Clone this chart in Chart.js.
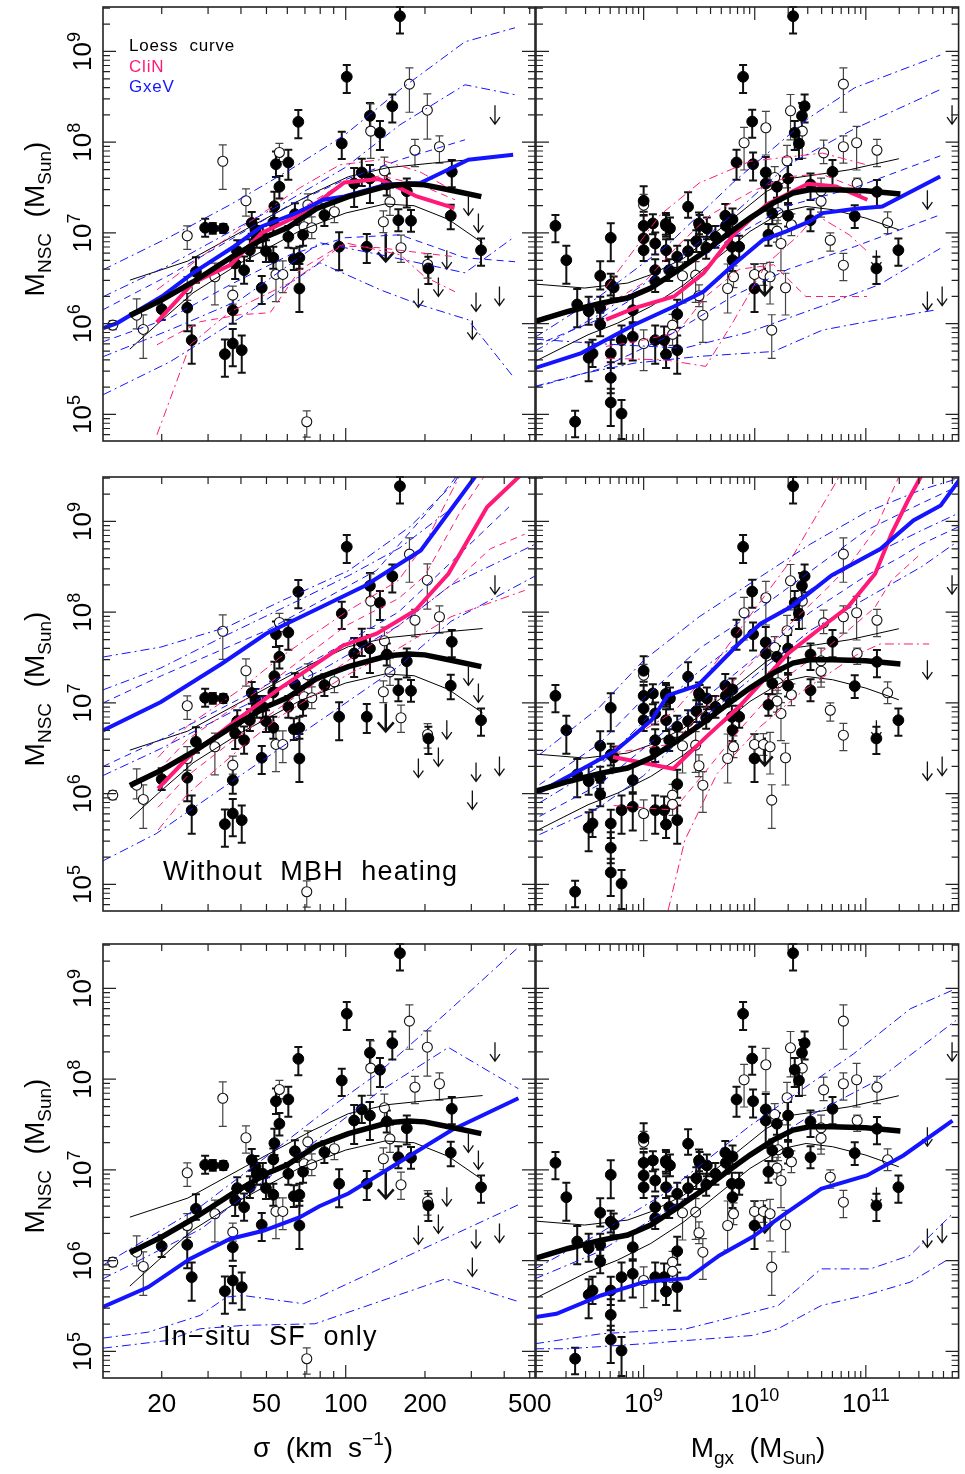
<!DOCTYPE html>
<html>
<head>
<meta charset="utf-8">
<script src="https://cdn.jsdelivr.net/npm/chart.js@4.4.1/dist/chart.umd.min.js"></script>
<style>
  html, body { margin: 0; padding: 0; background: #fff; overflow: hidden; }
  #wrap { position: relative; width: 965px; height: 1474px; }
  #wrap canvas { position: absolute; left: 0; top: 0; }
</style>
</head>
<body>
<div id="wrap"></div>
<script>
// --- DATA (log10 values) ---
const sigmaTicks = [20, 50, 100, 200, 500];
const mgxExps = [9, 10, 11];
const mnscExps = [5, 6, 7, 8, 9];
const legendNames = ['Loess  curve', 'CliN', 'GxeV'];
const rowLabels = ['', 'Without  MBH  heating', 'In\u2212situ  SF  only'];

// [filled?, log sigma, log M_NSC, err down, err up]
const sigmaPoints = [
  [1,1.820,8.225,0.18,0.13],[0,1.533,7.79,0.31,0.18],[0,1.748,7.887,0.10,0.10],[1,1.735,7.758,0.14,0.14],
  [1,1.782,7.777,0.19,0.14],[1,1.748,7.509,0.13,0.12],[0,1.621,7.355,0.17,0.13],[1,1.729,7.295,0.13,0.16],
  [0,1.856,7.31,0.12,0.12],[1,1.807,7.207,0.12,0.12],[1,1.643,7.11,0.12,0.12],[1,1.725,7.116,0.12,0.12],
  [1,2.206,9.389,0.19,0.10],[1,2.004,8.721,0.18,0.13],[0,2.242,8.64,0.31,0.18],[1,2.177,8.397,0.18,0.13],
  [0,2.310,8.353,0.32,0.18],[1,2.092,8.291,0.14,0.14],[0,2.095,8.122,0.30,0.30],[1,2.130,8.104,0.19,0.13],
  [1,1.985,7.986,0.17,0.13],[0,2.263,7.912,0.18,0.12],[0,2.356,7.95,0.18,0.12],[1,2.403,7.674,0.17,0.13],
  [1,2.061,7.667,0.15,0.15],[0,2.147,7.685,0.15,0.15],[1,2.032,7.545,0.26,0.17],[1,2.092,7.60,0.27,0.15],
  [1,2.156,7.534,0.12,0.12],[1,2.232,7.46,0.18,0.14],[0,2.168,7.343,0.15,0.15],[0,1.957,7.234,0.12,0.12],
  [1,1.919,7.196,0.12,0.12],[1,2.399,7.19,0.15,0.12],[0,2.143,7.123,0.12,0.12],[1,2.200,7.14,0.12,0.12],
  [1,2.248,7.134,0.12,0.12],[0,1.115,5.984,0.05,0.05],[0,1.206,6.094,0.15,0.18],[0,1.231,5.937,0.32,0.16],
  [1,1.301,6.16,0.12,0.12],[1,1.398,6.176,0.26,0.17],[1,1.415,5.819,0.26,0.16],[0,1.398,6.388,0.13,0.13],
  [0,1.398,6.969,0.15,0.11],[1,1.466,7.057,0.10,0.10],[1,1.495,7.05,0.06,0.06],[1,1.535,7.05,0.05,0.05],
  [1,1.431,6.572,0.12,0.16],[0,1.503,6.517,0.31,0.15],[1,1.571,6.149,0.15,0.16],[0,1.571,6.315,0.10,0.10],
  [1,1.541,5.665,0.25,0.16],[1,1.571,5.782,0.25,0.16],[1,1.605,5.709,0.25,0.16],[1,1.580,6.664,0.17,0.13],
  [1,1.614,6.59,0.15,0.15],[1,1.588,6.80,0.12,0.12],[1,1.636,6.81,0.12,0.12],[1,1.681,6.396,0.18,0.13],
  [0,1.735,6.543,0.30,0.15],[0,1.761,6.543,0.20,0.15],[1,1.824,6.388,0.26,0.27],[1,1.725,6.727,0.12,0.12],
  [1,1.697,6.80,0.12,0.12],[1,1.662,6.958,0.12,0.12],[1,1.685,6.958,0.12,0.12],[1,1.782,6.958,0.12,0.12],
  [1,1.803,6.711,0.12,0.12],[1,1.824,6.727,0.12,0.12],[0,1.842,7.068,0.12,0.12],[0,1.871,7.057,0.12,0.12],
  [0,1.852,4.92,0.17,0.12],[1,1.975,6.848,0.26,0.16],[1,2.080,6.848,0.18,0.14],[0,2.210,6.837,0.16,0.14],
  [0,2.311,6.653,0.15,0.12],[1,2.314,6.609,0.17,0.13],[1,2.514,6.81,0.17,0.13],[1,1.657,7.035,0.12,0.12],
  [1,1.838,6.98,0.12,0.12]
];
// upper limits [log sigma, log M_NSC, big arrow?]
const sigmaLimits = [
  [2.567,8.408,0],[2.466,7.402,0],[2.504,7.215,0],[2.384,6.81,0],[2.352,6.51,0],
  [2.276,6.388,0],[2.495,6.344,0],[2.584,6.41,0],[2.481,6.036,0],[2.152,6.995,1]
];

// [filled?, log M_gx, log M_NSC, err down, err up]
const mgxPoints = [
  [1,9.895,8.721,0.18,0.13],[1,9.977,8.228,0.18,0.13],[0,9.904,7.994,0.30,0.17],[1,9.836,7.777,0.19,0.14],
  [1,9.985,7.758,0.18,0.13],[1,9.0,7.355,0.12,0.16],[0,9.0,7.306,0.12,0.12],[1,9.4,7.289,0.12,0.16],
  [1,9.735,7.19,0.12,0.13],[1,9.8,7.149,0.12,0.12],[1,9.498,7.105,0.12,0.12],[1,9.083,7.105,0.12,0.10],
  [1,9.2,7.10,0.12,0.12],[1,10.345,9.389,0.19,0.10],[0,10.798,8.64,0.31,0.18],[0,10.322,8.346,0.32,0.18],
  [1,10.449,8.397,0.18,0.13],[1,10.425,8.291,0.14,0.14],[0,10.428,8.122,0.30,0.30],[1,10.36,8.104,0.19,0.13],
  [1,10.398,7.986,0.17,0.13],[0,10.10,8.159,0.30,0.18],[0,10.62,7.883,0.12,0.14],[0,10.798,7.95,0.18,0.12],
  [0,10.917,7.994,0.30,0.18],[0,11.10,7.912,0.18,0.12],[0,10.291,7.796,0.30,0.17],[1,10.099,7.667,0.15,0.17],
  [1,10.099,7.545,0.30,0.12],[1,10.20,7.509,0.12,0.12],[1,10.30,7.60,0.27,0.15],[0,10.18,7.612,0.12,0.12],
  [1,10.502,7.534,0.17,0.12],[1,10.70,7.674,0.17,0.13],[0,10.922,7.545,0.12,0.06],[0,10.597,7.464,0.29,0.14],
  [0,10.597,7.35,0.12,0.12],[1,11.10,7.453,0.17,0.13],[1,10.90,7.186,0.13,0.12],[0,11.196,7.112,0.12,0.12],
  [1,10.30,7.19,0.12,0.12],[1,10.502,7.14,0.12,0.12],[1,10.158,7.215,0.12,0.12],[0,10.21,7.222,0.12,0.12],
  [1,8.206,7.079,0.18,0.12],[1,8.304,6.70,0.26,0.16],[1,8.704,6.947,0.26,0.16],[1,8.402,6.212,0.25,0.17],
  [1,8.505,6.138,0.15,0.16],[1,8.609,6.528,0.15,0.16],[1,8.704,6.43,0.12,0.12],[1,8.73,6.40,0.12,0.12],
  [1,8.609,6.176,0.12,0.12],[1,8.609,5.992,0.13,0.13],[1,8.505,5.625,0.26,0.17],[1,8.54,5.672,0.15,0.15],
  [1,8.704,5.672,0.16,0.15],[1,8.704,5.404,0.17,0.17],[1,8.704,5.132,0.26,0.15],[1,8.801,5.01,0.28,0.15],
  [1,8.383,4.92,0.17,0.12],[1,8.801,5.819,0.26,0.16],[1,8.902,6.149,0.15,0.16],[1,8.902,5.856,0.26,0.16],
  [0,9.0,5.782,0.30,0.15],[1,9.104,5.819,0.26,0.16],[1,9.202,5.661,0.15,0.16],[0,9.26,5.984,0.12,0.12],
  [0,9.26,5.882,0.12,0.12],[1,9.302,6.105,0.15,0.16],[1,9.302,5.709,0.26,0.16],[1,9.184,5.819,0.15,0.15],
  [1,9.0,6.94,0.12,0.12],[1,9.0,6.81,0.12,0.12],[1,9.0,7.079,0.12,0.12],[1,9.104,6.884,0.12,0.12],
  [1,9.104,6.59,0.12,0.12],[1,9.104,6.469,0.12,0.12],[1,9.202,6.81,0.12,0.12],[1,9.202,7.079,0.12,0.12],
  [1,9.237,7.05,0.12,0.12],[1,9.23,6.59,0.12,0.12],[1,9.302,6.738,0.12,0.12],[0,9.35,6.528,0.30,0.15],
  [1,9.4,6.80,0.12,0.12],[0,9.468,6.535,0.30,0.15],[1,9.504,7.079,0.12,0.12],[1,9.569,7.05,0.12,0.12],
  [1,9.646,6.958,0.12,0.12],[1,9.474,6.91,0.12,0.12],[1,9.563,6.837,0.12,0.12],[0,9.498,6.308,0.12,0.12],
  [0,9.533,6.094,0.30,0.15],[1,9.74,7.079,0.12,0.12],[1,9.794,6.848,0.12,0.12],[1,9.86,6.848,0.12,0.12],
  [1,9.80,6.70,0.12,0.12],[0,9.756,6.388,0.27,0.27],[0,9.809,6.517,0.12,0.12],[1,9.998,6.388,0.26,0.27],
  [0,9.998,6.543,0.12,0.12],[0,10.078,6.543,0.12,0.12],[0,10.138,6.517,0.30,0.16],[0,10.277,6.396,0.30,0.16],
  [0,10.153,5.929,0.31,0.17],[0,10.68,6.92,0.12,0.08],[0,10.798,6.645,0.17,0.13],[1,11.095,6.609,0.17,0.13],
  [1,11.293,6.81,0.17,0.13],[1,10.123,6.98,0.12,0.12],[0,10.236,6.884,0.30,0.12],[0,10.20,7.02,0.12,0.12],
  [0,10.33,7.09,0.12,0.12]
];
const mgxLimits = [[11.776,8.408,0],[11.554,7.472,0],[11.554,6.355,0],[11.687,6.41,0],[11.095,6.81,0],[10.09,6.62,1]];

// Loess curves [log x, log M_NSC]
const loessMidS = [[1.18,6.09],[1.30,6.26],[1.42,6.46],[1.57,6.74],[1.70,6.96],[1.78,7.06],[1.89,7.27],[2.01,7.40],[2.16,7.52],[2.24,7.54],[2.30,7.53],[2.40,7.47],[2.515,7.40]];
const loessHiS = [[1.18,6.48],[1.40,6.69],[1.62,7.04],[1.87,7.43],[2.01,7.62],[2.16,7.72],[2.33,7.77],[2.52,7.82]];
const loessLoS = [[1.18,5.72],[1.29,6.01],[1.42,6.34],[1.60,6.67],[1.83,7.03],[2.0,7.22],[2.15,7.32],[2.26,7.30],[2.39,7.15],[2.52,6.89]];
const loessMidM = [[8.022,6.025],[8.32,6.135],[8.618,6.227],[8.856,6.283],[9.064,6.393],[9.273,6.558],[9.51,6.76],[9.749,6.98],[9.957,7.164],[10.165,7.329],[10.344,7.44],[10.493,7.476],[10.701,7.476],[10.999,7.465],[11.311,7.429]];
const loessHiM = [[8.022,6.437],[8.469,6.393],[8.856,6.448],[9.064,6.54],[9.362,6.723],[9.808,7.164],[10.106,7.458],[10.344,7.605],[10.553,7.641],[10.85,7.696],[11.297,7.818]];
const loessLoM = [[8.022,5.584],[8.499,5.878],[8.766,6.007],[9.064,6.19],[9.362,6.429],[9.66,6.723],[9.957,7.017],[10.255,7.237],[10.463,7.292],[10.701,7.256],[10.999,7.164],[11.297,7.035]];

// Row 1 (fiducial) models
const gx1S_med = [[1.079,5.952],[1.132,6.007],[1.301,6.30],[1.419,6.558],[1.576,6.851],[1.681,7.072],[1.812,7.22],[1.916,7.366],[1.995,7.402],[2.152,7.531],[2.283,7.55],[2.388,7.696],[2.466,7.807],[2.636,7.862]];
const gx1S_dd1 = [[1.078,6.594],[1.333,6.958],[1.561,7.311],[1.788,7.696],[1.997,8.082],[2.206,8.578],[2.453,9.107],[2.643,9.261]];
const gx1S_dd2 = [[1.078,6.297],[1.333,6.65],[1.561,7.013],[1.788,7.366],[1.997,7.719],[2.206,8.192],[2.453,8.633],[2.643,8.523]];
const gx1S_ds1 = [[1.078,6.154],[1.333,6.54],[1.561,6.925],[1.788,7.311],[1.997,7.586],[2.206,7.807],[2.453,8.027]];
const gx1S_ds2 = [[1.078,5.801],[1.333,6.066],[1.561,6.429],[1.788,6.76],[1.997,6.947],[2.206,6.98],[2.453,6.727],[2.643,6.683]];
const gx1S_dd3 = [[1.078,5.636],[1.333,5.933],[1.599,6.264],[1.902,6.892],[2.131,6.76],[2.453,6.561],[2.636,6.947]];
const gx1S_dd4 = [[1.078,5.217],[1.333,5.581],[1.599,6.066],[1.902,6.672],[2.131,6.374],[2.282,6.209],[2.465,6.044],[2.636,5.416]];
const cl1S_med = [[1.282,6.014],[1.419,6.448],[1.563,6.65],[1.681,7.0],[1.812,7.182],[1.89,7.33],[1.995,7.556],[2.126,7.594],[2.191,7.513],[2.27,7.402],[2.413,7.274]];
const cl1S_dd1 = [[1.283,6.374],[1.447,6.727],[1.636,7.123],[1.826,7.498],[1.978,7.751],[2.13,7.807],[2.282,7.674],[2.415,7.454]];
const cl1S_ds1 = [[1.283,6.209],[1.447,6.484],[1.636,6.87],[1.826,7.256],[1.978,7.531],[2.13,7.63],[2.282,7.531],[2.415,7.366]];
const cl1S_ds2 = [[1.283,5.768],[1.447,6.022],[1.599,6.099],[1.713,6.121],[1.826,6.595],[1.978,6.859],[2.13,6.837],[2.282,6.782],[2.415,6.738]];
const cl1S_dd2 = [[1.283,4.776],[1.409,5.768],[1.561,6.132],[1.788,6.451],[1.902,6.683],[1.997,6.892],[2.206,6.76],[2.3,6.518],[2.415,6.352]];

const gx1M_med = [[8.022,5.511],[8.439,5.677],[8.916,5.988],[9.273,6.19],[9.54,6.355],[9.808,6.65],[10.076,6.925],[10.284,7.017],[10.493,7.127],[10.612,7.219],[10.909,7.267],[11.148,7.292],[11.669,7.623]];
const gx1M_dd1 = [[8.022,5.85],[8.6,6.3],[9.2,6.85],[9.8,7.55],[10.49,8.27],[10.9,8.6],[11.67,8.96]];
const gx1M_dd2 = [[8.022,5.7],[8.6,6.1],[9.2,6.6],[9.8,7.2],[10.3,7.75],[10.9,8.15],[11.67,8.58]];
const gx1M_ds1 = [[8.022,5.76],[8.6,6.05],[9.2,6.5],[9.8,6.95],[10.3,7.3],[10.9,7.5],[11.67,7.85]];
const gx1M_ds2 = [[8.022,5.3],[8.6,5.5],[9.2,5.85],[9.8,6.3],[10.3,6.6],[10.9,6.85],[11.67,7.2]];
const gx1M_dd3 = [[8.022,5.83],[8.6,5.78],[9.36,5.73],[9.93,5.9],[10.64,6.21],[11.12,6.43],[11.67,6.83]];
const gx1M_dd4 = [[8.022,5.31],[8.45,5.45],[8.92,5.566],[9.5,5.64],[10.17,5.694],[10.61,5.93],[11.0,6.02],[11.62,6.15]];
const cl1M_med = [[8.662,6.044],[8.916,6.172],[9.273,6.3],[9.54,6.558],[9.808,6.98],[10.106,7.311],[10.314,7.44],[10.478,7.542],[10.732,7.512],[11.014,7.366]];
const cl1M_dd1 = [[8.66,6.4],[9.15,7.2],[9.5,7.55],[9.96,7.79],[10.61,7.88],[11.01,7.75]];
const cl1M_ds1 = [[8.66,6.2],[9.0,6.45],[9.3,6.85],[9.6,7.2],[9.96,7.45],[10.3,7.62],[10.6,7.65],[11.01,7.45]];
const cl1M_ds2 = [[8.66,5.75],[8.92,5.8],[9.3,5.9],[9.56,6.3],[9.86,6.6],[10.17,6.65],[10.46,6.3],[11.01,6.3]];
const cl1M_dd2 = [[8.66,5.62],[9.2,5.6],[9.56,5.53],[9.81,6.03],[10.1,6.65],[10.4,6.98],[10.55,7.2],[10.85,6.98],[11.01,6.8]];

// Row 2 (without MBH heating)
const gx2S_med = [[1.078,6.697],[1.298,7.01],[1.529,7.432],[1.697,7.763],[1.907,8.057],[2.075,8.295],[2.285,8.68],[2.495,9.507],[2.55,9.75]];
const gx2S_dd1 = [[1.078,7.506],[1.298,7.616],[1.549,7.836],[1.76,8.13],[2.012,8.46],[2.243,8.94],[2.411,9.42],[2.45,9.6]];
const gx2S_dd2 = [[1.078,7.144],[1.298,7.386],[1.549,7.75],[1.826,8.137],[2.016,8.41],[2.206,8.71],[2.396,9.13],[2.51,9.55]];
const gx2S_ds1 = [[1.078,7.0],[1.3,7.3],[1.7,7.8],[2.117,8.46],[2.327,9.16],[2.45,9.6]];
const gx2S_ds2 = [[1.078,6.3],[1.3,6.6],[1.6,7.05],[1.9,7.5],[2.2,8.0],[2.4,8.55],[2.62,9.16]];
const gx2S_dd3 = [[1.078,6.2],[1.3,6.5],[1.6,6.95],[1.9,7.35],[2.2,7.85],[2.4,8.3],[2.72,8.75]];
const gx2S_dd4 = [[1.078,5.26],[1.28,5.56],[1.6,6.2],[1.9,6.8],[2.2,7.4],[2.4,7.9],[2.72,8.4]];
const cl2S_med = [[1.287,6.055],[1.402,6.404],[1.592,6.826],[1.739,7.138],[1.991,7.634],[2.117,7.763],[2.264,8.019],[2.39,8.424],[2.537,9.159],[2.663,9.507]];
const cl2S_ds1 = [[1.287,6.25],[1.4,6.6],[1.6,7.0],[1.75,7.3],[2.0,7.85],[2.2,8.15],[2.3,8.4],[2.43,9.08],[2.55,9.6]];
const cl2S_dd1 = [[1.287,6.4],[1.4,6.75],[1.6,7.15],[1.75,7.5],[2.0,8.0],[2.2,8.35],[2.3,8.75],[2.45,9.6]];
const cl2S_ds2 = [[1.287,5.85],[1.4,6.2],[1.6,6.65],[1.75,6.95],[2.0,7.45],[2.2,7.85],[2.4,8.3],[2.55,8.7],[2.68,8.86]];
const cl2S_dd2 = [[1.287,5.6],[1.4,6.0],[1.6,6.5],[1.75,6.85],[2.0,7.3],[2.2,7.6],[2.4,7.95],[2.68,8.24]];

const gx2M_med = [[8.062,6.018],[8.48,6.294],[8.75,6.477],[9.069,6.807],[9.217,7.083],[9.487,7.193],[9.856,7.652],[10.052,7.873],[10.347,8.074],[10.691,8.405],[11.133,8.699],[11.428,9.011],[11.674,9.176],[11.86,9.489]];
const gx2M_dd1 = [[8.062,6.43],[8.6,6.95],[9.0,7.47],[9.5,7.95],[10.0,8.35],[10.5,8.75],[11.0,9.1],[11.5,9.35],[11.85,9.48]];
const gx2M_dd2 = [[8.062,5.9],[8.6,6.3],[9.0,6.8],[9.5,7.35],[10.0,7.8],[10.5,8.25],[11.0,8.6],[11.5,8.9],[11.85,9.1]];
const gx2M_ds1 = [[8.062,6.1],[8.6,6.55],[9.0,7.05],[9.5,7.6],[10.0,8.0],[10.5,8.45],[11.0,8.9],[11.5,9.2],[11.85,9.4]];
const gx2M_ds2 = [[8.062,5.75],[8.6,6.1],[9.0,6.5],[9.5,7.0],[10.0,7.5],[10.5,8.0],[11.0,8.4],[11.3,8.6],[11.5,8.75],[11.85,8.95]];
const gx2M_dd3 = [[8.062,5.55],[8.6,5.85],[9.0,6.2],[9.5,6.8],[10.0,7.3],[10.5,7.8],[11.0,8.15],[11.5,8.5],[11.85,8.8]];
const cl2M_med = [[8.725,6.404],[9.266,6.275],[9.561,6.624],[9.856,6.955],[10.298,7.542],[10.642,7.873],[10.838,8.057],[11.084,8.424],[11.231,8.864],[11.379,9.231],[11.501,9.507]];
const cl2M_dd1 = [[8.73,6.5],[9.27,6.9],[9.56,7.3],[9.86,7.8],[10.3,8.53],[10.74,9.45],[10.8,9.6]];
const cl2M_ds1 = [[8.73,6.45],[9.27,6.55],[9.56,6.95],[9.86,7.3],[10.3,7.85],[10.64,8.25],[10.84,8.5],[11.08,8.9],[11.3,9.5]];
const cl2M_ds2 = [[8.73,5.87],[9.27,5.82],[9.56,6.25],[9.86,6.7],[10.3,7.3],[10.64,7.6],[10.84,7.8],[11.08,8.05],[11.23,8.35],[11.5,8.65]];
const cl2M_dd2 = [[9.22,4.714],[9.37,5.485],[9.66,6.22],[10.05,6.74],[10.44,7.14],[10.93,7.54],[11.13,7.65],[11.57,7.65]];

// Row 3 (in-situ SF only)
const gx3S_med = [[1.078,5.49],[1.25,5.71],[1.408,6.02],[1.56,6.24],[1.687,6.33],[1.826,6.48],[1.9,6.6],[2.01,6.74],[2.2,7.08],[2.403,7.44],[2.656,7.79]];
const gx3S_dd1 = [[1.078,5.95],[1.45,6.6],[1.7,7.15],[1.9,7.6],[2.12,8.06],[2.39,8.75],[2.656,9.455]];
const gx3S_dd2 = [[1.078,5.8],[1.45,6.35],[1.7,6.9],[1.9,7.35],[2.12,7.85],[2.39,8.35],[2.656,7.895]];
const gx3S_dd3 = [[1.078,5.147],[1.25,5.213],[1.447,5.397],[1.548,5.6],[1.61,5.617],[1.839,5.526],[1.883,5.58],[2.656,6.617]];
const gx3S_dd4 = [[1.078,5.036],[1.32,5.12],[1.447,5.25],[1.61,5.287],[1.883,5.305],[2.378,5.8],[2.656,5.55]];
const gx3M_med = [[8.022,5.378],[8.215,5.415],[8.615,5.617],[9.0,5.764],[9.4,5.808],[9.682,6.058],[9.978,6.26],[10.271,6.517],[10.597,6.793],[11.01,6.94],[11.338,7.16],[11.78,7.545]];
const gx3M_dd1 = [[8.022,5.91],[8.6,6.3],[9.2,6.75],[9.6,7.14],[9.95,7.48],[10.5,7.95],[10.89,8.28],[11.4,8.776],[11.81,8.997]];
const gx3M_dd2 = [[8.022,5.8],[8.6,6.1],[9.2,6.55],[9.6,6.85],[9.92,7.14],[10.5,7.6],[11.1,7.986],[11.81,8.647]];
const gx3M_dd3 = [[8.022,5.085],[8.615,5.195],[9.385,5.25],[9.978,5.433],[10.212,5.507],[10.597,5.91],[11.04,5.91],[11.397,6.058],[11.78,6.517]];
const gx3M_dd4 = [[8.022,5.03],[8.32,5.03],[9.0,5.085],[9.978,5.176],[10.21,5.25],[10.6,5.507],[11.0,5.62],[11.4,5.764],[11.75,6.021]];

// --- LAYOUT & STYLE ---
const W = 965, H = 1474;
const colLeft = [103, 536], colRight = [535, 964];
const rowTop = [7, 477, 944], PH = 434;
const xRange = [[1.078, 2.719], [8.031, 11.835]];
const yRange = [4.7076, 9.49];
const BLUE = '#1414ff', PINK = '#ff1a78', INK = '#111';
const DASH = [7, 5], DOT = [9, 4, 2, 4];
const FONT = '"Liberation Sans", Arial, sans-serif';

const panelModels = [
  [[gx1S_med, BLUE, 'med'], [cl1S_med, PINK, 'med'], [gx1S_dd1, BLUE, 'dd'], [gx1S_dd2, BLUE, 'dd'], [gx1S_ds1, BLUE, 'ds'], [gx1S_ds2, BLUE, 'ds'], [gx1S_dd3, BLUE, 'dd'], [gx1S_dd4, BLUE, 'dd'],
   [cl1S_dd1, PINK, 'dd'], [cl1S_ds1, PINK, 'ds'], [cl1S_ds2, PINK, 'ds'], [cl1S_dd2, PINK, 'dd']],
  [[gx1M_med, BLUE, 'med'], [cl1M_med, PINK, 'med'], [gx1M_dd1, BLUE, 'dd'], [gx1M_dd2, BLUE, 'dd'], [gx1M_ds1, BLUE, 'ds'], [gx1M_ds2, BLUE, 'ds'], [gx1M_dd3, BLUE, 'dd'], [gx1M_dd4, BLUE, 'dd'],
   [cl1M_dd1, PINK, 'dd'], [cl1M_ds1, PINK, 'ds'], [cl1M_ds2, PINK, 'ds'], [cl1M_dd2, PINK, 'dd']],
  [[gx2S_med, BLUE, 'med'], [cl2S_med, PINK, 'med'], [gx2S_dd1, BLUE, 'dd'], [gx2S_dd2, BLUE, 'dd'], [gx2S_ds1, BLUE, 'ds'], [gx2S_ds2, BLUE, 'ds'], [gx2S_dd3, BLUE, 'dd'], [gx2S_dd4, BLUE, 'dd'],
   [cl2S_dd1, PINK, 'dd'], [cl2S_ds1, PINK, 'ds'], [cl2S_ds2, PINK, 'ds'], [cl2S_dd2, PINK, 'dd']],
  [[gx2M_med, BLUE, 'med'], [cl2M_med, PINK, 'med'], [gx2M_dd1, BLUE, 'dd'], [gx2M_dd2, BLUE, 'dd'], [gx2M_ds1, BLUE, 'ds'], [gx2M_ds2, BLUE, 'ds'], [gx2M_dd3, BLUE, 'dd'],
   [cl2M_dd1, PINK, 'dd'], [cl2M_ds1, PINK, 'ds'], [cl2M_ds2, PINK, 'ds'], [cl2M_dd2, PINK, 'dd']],
  [[gx3S_med, BLUE, 'med'], [gx3S_dd1, BLUE, 'dd'], [gx3S_dd2, BLUE, 'dd'], [gx3S_dd3, BLUE, 'dd'], [gx3S_dd4, BLUE, 'dd']],
  [[gx3M_med, BLUE, 'med'], [gx3M_dd1, BLUE, 'dd'], [gx3M_dd2, BLUE, 'dd'], [gx3M_dd3, BLUE, 'dd'], [gx3M_dd4, BLUE, 'dd']]
];

const toXY = arr => arr.map(([a, b]) => ({ x: 10 ** a, y: 10 ** b }));

function lineSet(arr, color, kind) {
  return {
    data: toXY(arr), showLine: true, pointRadius: 0, clip: 0, order: 0,
    borderColor: color,
    borderWidth: kind === 'med' ? 4 : kind === 'loess' ? 5.5 : 1,
    borderDash: kind === 'ds' ? DASH : kind === 'dd' ? DOT : []
  };
}

function f(px) { return px + 'px ' + FONT; }

// draws text made of pieces with sub/superscripts
function rich(ctx, parts, x, y, opts = {}) {
  ctx.save();
  ctx.translate(x, y);
  if (opts.rotate) ctx.rotate(-Math.PI / 2);
  if (opts.spacing) ctx.letterSpacing = opts.spacing;
  ctx.textAlign = 'left';
  ctx.textBaseline = 'alphabetic';
  let w = 0;
  for (const p of parts) { ctx.font = f(p.s); w += ctx.measureText(p.t).width; }
  let cx = opts.align === 'left' ? 0 : -w / 2;
  for (const p of parts) {
    ctx.font = f(p.s);
    ctx.fillStyle = opts.color || '#000';
    ctx.fillText(p.t, cx, p.dy || 0);
    cx += ctx.measureText(p.t).width;
  }
  ctx.restore();
}

function makeDecor(row, col, points, limits) {
  return {
    id: 'decor' + row + col,
    beforeDatasetsDraw(chart) {
      const { ctx, scales: { x, y } } = chart;
      ctx.save();
      // error bars
      for (const [k, lx, ly, dn, up] of points) {
        const px = x.getPixelForValue(10 ** lx);
        const y0 = y.getPixelForValue(10 ** (ly - dn));
        const y1 = y.getPixelForValue(10 ** (ly + up));
        ctx.strokeStyle = k ? INK : '#444';
        ctx.lineWidth = k ? 2 : 1.2;
        ctx.beginPath();
        ctx.moveTo(px, y0); ctx.lineTo(px, y1);
        ctx.moveTo(px - 4, y0); ctx.lineTo(px + 4, y0);
        ctx.moveTo(px - 4, y1); ctx.lineTo(px + 4, y1);
        ctx.stroke();
      }
      // upper limits
      for (const [lx, ly, big] of limits) {
        const px = x.getPixelForValue(10 ** lx);
        const py = y.getPixelForValue(10 ** ly);
        const len = big ? 28 : 19, hw = big ? 8 : 5, hh = big ? 9 : 7;
        ctx.strokeStyle = INK;
        ctx.lineWidth = big ? 2.5 : 1.3;
        ctx.beginPath();
        ctx.moveTo(px, py); ctx.lineTo(px, py + len);
        ctx.moveTo(px - hw, py + len - hh); ctx.lineTo(px, py + len); ctx.lineTo(px + hw, py + len - hh);
        ctx.stroke();
      }
      ctx.restore();
    },
    afterDraw(chart) {
      const { ctx, chartArea: a, scales: { x, y } } = chart;
      ctx.save();
      ctx.strokeStyle = '#222';
      ctx.lineWidth = 1.6;
      ctx.strokeRect(a.left, a.top, a.right - a.left, a.bottom - a.top);
      ctx.lineWidth = 1.2;
      ctx.beginPath();
      // y ticks (both sides)
      for (let d = 4; d <= 9; d++) for (let m = 1; m < 10; m++) {
        const v = m * 10 ** d;
        if (v < y.min || v > y.max) continue;
        const py = y.getPixelForValue(v), len = m === 1 ? 13 : 7;
        ctx.moveTo(a.left, py); ctx.lineTo(a.left + len, py);
        ctx.moveTo(a.right, py); ctx.lineTo(a.right - len, py);
      }
      // x ticks (top and bottom)
      const d0 = Math.floor(Math.log10(x.min)), d1 = Math.ceil(Math.log10(x.max));
      for (let d = d0; d <= d1; d++) for (let m = 1; m < 10; m++) {
        const v = m * 10 ** d;
        if (v < x.min || v > x.max) continue;
        const px = x.getPixelForValue(v), len = m === 1 ? 13 : 7;
        ctx.moveTo(px, a.top); ctx.lineTo(px, a.top + len);
        ctx.moveTo(px, a.bottom); ctx.lineTo(px, a.bottom - len);
      }
      ctx.stroke();
      ctx.restore();

      // y tick labels + title on the left column
      if (col === 0) {
        for (const e of mnscExps) {
          const py = y.getPixelForValue(10 ** e);
          rich(ctx, [{ t: '10', s: 26 }, { t: String(e), s: 18, dy: -11 }], 91, py, { rotate: true });
        }
        rich(ctx, [{ t: 'M', s: 28 }, { t: 'NSC', s: 19, dy: 7 }, { t: '  (M', s: 28 }, { t: 'Sun', s: 19, dy: 7 }, { t: ')', s: 28 }],
          44, rowTop[row] + 212, { rotate: true });
      }
      // x tick labels + titles on the bottom row
      if (row === 2) {
        if (col === 0) {
          for (const v of sigmaTicks) rich(ctx, [{ t: String(v), s: 26 }], x.getPixelForValue(v), 1412);
          rich(ctx, [{ t: '\u03c3  (km  s', s: 28 }, { t: '\u22121', s: 19, dy: -12 }, { t: ')', s: 28 }], 323, 1457);
        } else {
          for (const e of mgxExps) rich(ctx, [{ t: '10', s: 26 }, { t: String(e), s: 18, dy: -11 }], x.getPixelForValue(10 ** e), 1412);
          rich(ctx, [{ t: 'M', s: 28 }, { t: 'gx', s: 19, dy: 7 }, { t: '  (M', s: 28 }, { t: 'Sun', s: 19, dy: 7 }, { t: ')', s: 28 }], 758, 1457);
        }
      }
      // legend and panel labels
      if (row === 0 && col === 0) {
        const cols = ['#000', PINK, BLUE];
        legendNames.forEach((n, i) => rich(ctx, [{ t: n, s: 17 }], 129, 51 + i * 20.5, { align: 'left', color: cols[i], spacing: '0.8px' }));
      }
      if (col === 0 && rowLabels[row]) {
        rich(ctx, [{ t: rowLabels[row], s: 27 }], 163, row === 1 ? 880 : 1345, { align: 'left', spacing: '1.2px' });
      }
    }
  };
}

function makePanel(row, col) {
  const canvas = document.createElement('canvas');
  canvas.width = W; canvas.height = H;
  document.getElementById('wrap').appendChild(canvas);
  const points = col === 0 ? sigmaPoints : mgxPoints;
  const limits = col === 0 ? sigmaLimits : mgxLimits;
  const loess = col === 0 ? [loessMidS, loessHiS, loessLoS] : [loessMidM, loessHiM, loessLoM];
  const left = colLeft[col], right = colRight[col], top = rowTop[row], bottom = top + PH;

  const datasets = [];
  datasets.push(lineSet(loess[0], '#000', 'loess'));
  for (const [arr, c, k] of panelModels[row * 2 + col]) datasets.push(lineSet(arr, c, k));
  datasets.push(lineSet(loess[1], '#000', 'thin'));
  datasets.push(lineSet(loess[2], '#000', 'thin'));
  datasets.push({
    data: toXY(points.filter(p => p[0] === 1).map(p => [p[1], p[2]])), showLine: false, order: 1,
    pointRadius: 5.4, pointBackgroundColor: '#000', pointBorderColor: '#000', pointBorderWidth: 1
  });
  datasets.push({
    data: toXY(points.filter(p => p[0] === 0).map(p => [p[1], p[2]])), showLine: false, order: 1,
    pointRadius: 5, pointBackgroundColor: '#fff', pointBorderColor: '#111', pointBorderWidth: 1.1
  });

  new Chart(canvas, {
    type: 'scatter',
    data: { datasets },
    options: {
      responsive: false, animation: false, events: [],
      layout: { padding: { left, top, right: W - right, bottom: H - bottom } },
      plugins: { legend: { display: false }, tooltip: { enabled: false } },
      scales: {
        x: { type: 'logarithmic', display: false, min: 10 ** xRange[col][0], max: 10 ** xRange[col][1] },
        y: { type: 'logarithmic', display: false, min: 10 ** yRange[0], max: 10 ** yRange[1] }
      }
    },
    plugins: [makeDecor(row, col, points, limits)]
  });
}

for (let r = 0; r < 3; r++) for (let c = 0; c < 2; c++) makePanel(r, c);
</script>
</body>
</html>
